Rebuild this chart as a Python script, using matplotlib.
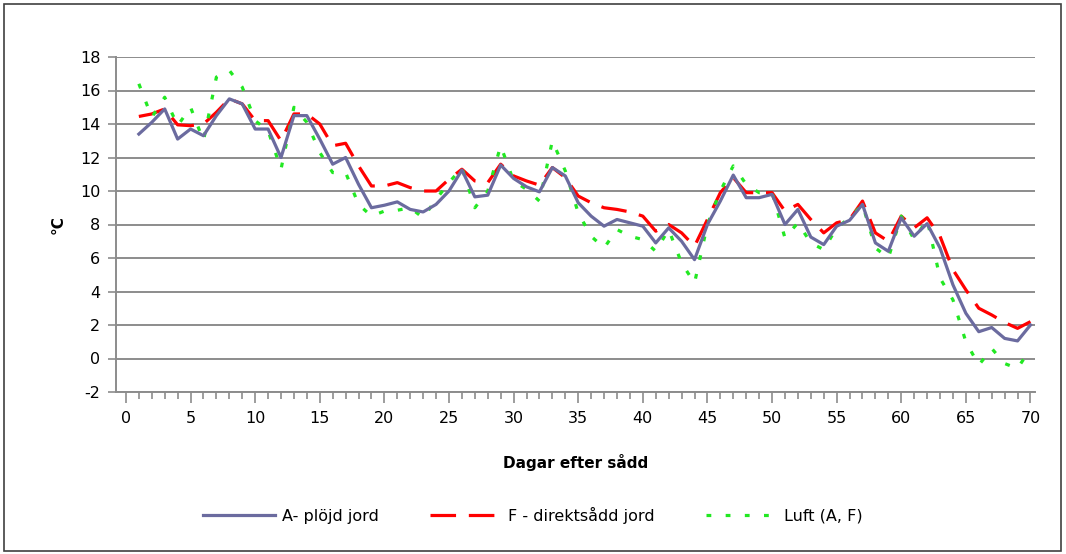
import matplotlib
matplotlib.use("Agg")
import matplotlib.pyplot as plt
from matplotlib.patches import Rectangle

plt.rcParams["axes.unicode_minus"] = False

days = list(range(1, 71))

a_plojd = [13.4, 14.1, 14.9, 13.1, 13.7, 13.3, 14.5, 15.5, 15.2, 13.7,
           13.7, 12.0, 14.5, 14.5, 13.1, 11.6, 12.0, 10.4, 9.0, 9.15,
           9.35, 8.9, 8.75, 9.2, 10.0, 11.25, 9.65, 9.75, 11.55, 10.75,
           10.25, 9.95, 11.4, 10.9, 9.3, 8.5, 7.9, 8.3, 8.1, 7.9,
           6.9, 7.8, 7.0, 5.9, 8.0, 9.4, 10.95, 9.6, 9.6, 9.8,
           8.0, 8.9, 7.25, 6.8, 7.9, 8.25, 9.2, 6.9, 6.4, 8.4,
           7.3, 8.05, 6.6, 4.4, 2.7, 1.6, 1.85, 1.2, 1.05, 2.0]

f_direkt = [14.45, 14.6, 14.9, 13.95, 13.9, 14.0, 14.7, 15.5, 15.2, 14.2,
            14.2, 13.0, 14.6, 14.6, 14.0, 12.7, 12.85, 11.5, 10.3, 10.3,
            10.5, 10.2, 10.0, 10.0, 10.7, 11.3, 10.6, 10.5, 11.6, 10.9,
            10.6, 10.35, 11.4, 10.8, 9.7, 9.3, 9.0, 8.9, 8.75, 8.5,
            7.6, 8.0, 7.5, 6.7, 8.3, 9.9, 10.8, 9.9, 9.9, 9.9,
            8.8, 9.2, 8.3, 7.5, 8.1, 8.3, 9.4, 7.5, 7.0, 8.5,
            7.8, 8.4, 7.3, 5.3, 4.1, 3.0, 2.6, 2.15, 1.8, 2.2]

luft = [16.4, 14.4, 15.6, 13.9, 15.0, 13.0, 16.8, 17.2, 16.2, 14.2,
        13.6, 11.3, 15.0, 14.1, 12.3, 11.1, 11.1, 9.2, 8.5, 8.8,
        8.85, 9.0, 8.4, 9.5, 10.5, 11.4, 9.0, 10.0, 12.7, 10.6,
        10.1, 9.4, 13.0, 11.2, 8.7, 7.3, 6.6, 7.7, 7.3, 7.1,
        6.4, 7.7, 5.7, 4.5, 8.0, 10.0, 11.5, 10.4, 9.9, 9.9,
        7.2, 8.1, 6.9, 6.5, 7.8, 8.4, 9.2, 6.6, 6.0, 8.5,
        7.1, 8.3, 4.8, 3.5, 1.0, -0.4, 0.6, -0.3, -0.6, 0.6]

x_ticks = list(range(0, 71, 5))
y_ticks = list(range(-2, 19, 2))

W, H = 1066, 554
fig = plt.figure(figsize=(W / 100, H / 100), dpi=100)
fig.patches.append(Rectangle((4 / W, 3 / H), (W - 9) / W, (H - 7) / H,
                             transform=fig.transFigure, fill=False,
                             edgecolor="#404040", linewidth=1.2))

ax = fig.add_axes([115.6 / W, 1 - 392 / H, (1035 - 115.6) / W, (392 - 57) / H])

grid_c = "#8c8c8c"
for yv in y_ticks:
    ax.axhline(yv, color=grid_c, linewidth=1.4, zorder=1)

ax.plot(days, a_plojd, color="#6b6b9f", linewidth=2.3, label="A- plöjd jord", zorder=3)
ax.plot(days, f_direkt, color="#ff0000", linewidth=2.3, dashes=(8, 4),
        label="F - direktsådd jord", zorder=2)
ax.plot(days, luft, color="#22e822", linewidth=2.3, dashes=(1.5, 4.5),
        label="Luft (A, F)", zorder=2)

ax.set_xlim(-0.8, 70.35)
ax.set_ylim(-2, 18)
ax.set_xticks(x_ticks)
ax.set_xticks(range(0, 71), minor=True)
ax.set_yticks(y_ticks)

for s in ["top", "right"]:
    ax.spines[s].set_visible(False)
ax.spines["left"].set_color(grid_c)
ax.spines["bottom"].set_color(grid_c)
ax.spines["left"].set_linewidth(1.4)
ax.spines["bottom"].set_linewidth(1.4)

ax.tick_params(axis="x", which="major", length=8, width=1.2, color=grid_c,
               labelsize=11.5, pad=6)
ax.tick_params(axis="x", which="minor", length=5, width=1.2, color=grid_c)
ax.tick_params(axis="y", which="major", length=6, width=1.2, color=grid_c,
               labelsize=11.5, pad=5)

ax.set_xlabel("Dagar efter sådd", fontsize=11, fontweight="bold", labelpad=20)
ax.set_ylabel("°C", fontsize=11, fontweight="bold", labelpad=10)

fig.legend(loc="center", bbox_to_anchor=(0.5, 1 - 515 / H), ncol=3, frameon=False,
           fontsize=11.5, handlelength=4.5, columnspacing=3.2, handletextpad=0.4)

fig.savefig("out.png", dpi=100)
